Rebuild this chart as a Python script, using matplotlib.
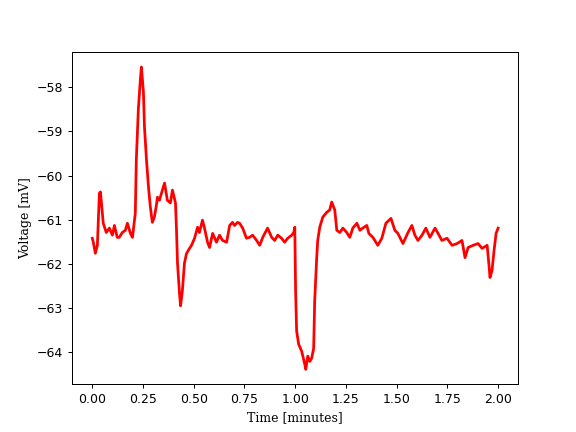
import matplotlib
matplotlib.use("Agg")
import matplotlib.pyplot as plt

# trace (time in minutes, voltage in mV)
time_min = [0.000, 0.005, 0.015, 0.025, 0.035, 0.040, 0.044, 0.054, 0.069, 0.084,
            0.099, 0.109, 0.123, 0.133, 0.148, 0.163, 0.173, 0.188, 0.198, 0.212,
            0.217, 0.227, 0.237, 0.242, 0.252, 0.257, 0.267, 0.277, 0.286, 0.296,
            0.306, 0.316, 0.321, 0.331, 0.341, 0.356, 0.370, 0.385, 0.395, 0.410,
            0.415, 0.420, 0.430, 0.435, 0.444, 0.454, 0.464, 0.479, 0.489, 0.504,
            0.519, 0.528, 0.543, 0.553, 0.568, 0.578, 0.593, 0.612, 0.627, 0.642,
            0.662, 0.677, 0.691, 0.701, 0.716, 0.726, 0.741, 0.760, 0.775, 0.790,
            0.810, 0.825, 0.840, 0.864, 0.884, 0.899, 0.914, 0.933, 0.948, 0.963,
            0.983, 0.993, 0.998, 1.002, 1.007, 1.017, 1.032, 1.047, 1.052, 1.062,
            1.072, 1.081, 1.091, 1.096, 1.106, 1.111, 1.121, 1.136, 1.156, 1.170,
            1.180, 1.195, 1.205, 1.220, 1.235, 1.254, 1.269, 1.284, 1.304, 1.319,
            1.333, 1.353, 1.363, 1.383, 1.407, 1.427, 1.447, 1.472, 1.491, 1.506,
            1.531, 1.556, 1.575, 1.590, 1.605, 1.625, 1.644, 1.664, 1.689, 1.704,
            1.723, 1.748, 1.773, 1.798, 1.822, 1.837, 1.852, 1.877, 1.901, 1.921,
            1.946, 1.956, 1.960, 1.970, 1.980, 1.990, 2.000]
voltage = [-61.42, -61.51, -61.76, -61.58, -60.40, -60.37, -60.56, -61.08, -61.29, -61.19,
           -61.35, -61.13, -61.40, -61.40, -61.29, -61.24, -61.08, -61.31, -61.40, -60.85,
           -59.64, -58.50, -57.82, -57.54, -58.11, -58.89, -59.64, -60.26, -60.71, -61.06,
           -60.94, -60.67, -60.49, -60.56, -60.40, -60.17, -60.56, -60.62, -60.33, -60.62,
           -61.24, -61.99, -62.68, -62.95, -62.61, -61.99, -61.77, -61.65, -61.58, -61.42,
           -61.17, -61.29, -61.01, -61.19, -61.51, -61.63, -61.31, -61.51, -61.35, -61.47,
           -61.51, -61.13, -61.06, -61.13, -61.06, -61.08, -61.19, -61.42, -61.40, -61.35,
           -61.47, -61.58, -61.40, -61.19, -61.40, -61.47, -61.35, -61.42, -61.51, -61.42,
           -61.35, -61.29, -61.17, -62.61, -63.52, -63.82, -63.98, -64.27, -64.39, -64.09,
           -64.21, -64.14, -63.91, -62.84, -61.86, -61.47, -61.17, -60.94, -60.83, -60.78,
           -60.60, -60.78, -61.24, -61.29, -61.19, -61.29, -61.40, -61.19, -61.08, -61.24,
           -61.19, -61.13, -61.31, -61.40, -61.58, -61.42, -61.08, -60.97, -61.24, -61.31,
           -61.54, -61.29, -61.13, -61.35, -61.47, -61.35, -61.19, -61.40, -61.19, -61.31,
           -61.47, -61.42, -61.58, -61.54, -61.47, -61.86, -61.63, -61.58, -61.54, -61.65,
           -61.58, -62.08, -62.31, -62.15, -61.70, -61.31, -61.19]

fig, ax = plt.subplots(figsize=(6.4, 4.8), dpi=90)
ax.plot(time_min, voltage, color='red', linewidth=2.2)  # thick line to mimic the noisy band
ax.set_xlabel('Time [minutes]', family='DejaVu Serif')
ax.set_ylabel('Voltage [mV]', family='DejaVu Serif')

fig.savefig('out.png')
